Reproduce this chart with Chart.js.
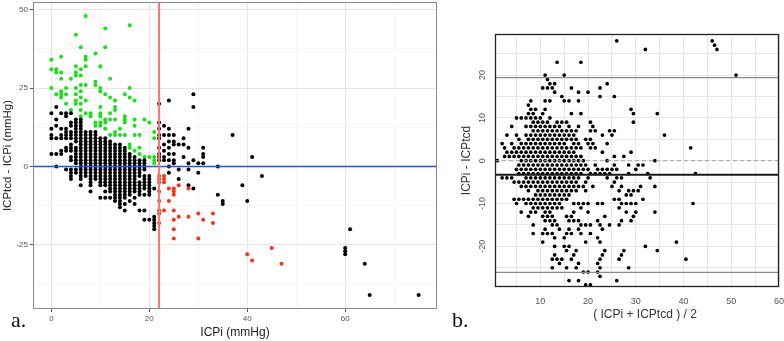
<!DOCTYPE html>
<html lang="en">
<head>
  <meta charset="UTF-8">
  <title>ICPi vs ICPtcd</title>
  <script src="https://cdn.jsdelivr.net/npm/chart.js"></script>
  <style>
    html, body { margin: 0; padding: 0; background: #fff; }
    body {
      width: 784px;
      height: 341px;
      position: relative;
      overflow: hidden;
      font-family: "Liberation Sans", Arial, sans-serif;
    }
    #wrapA { position: absolute; left: 0; top: 0; width: 445px; height: 341px; }
    #wrapB { position: absolute; left: 445px; top: 0; width: 339px; height: 341px; }
    .tag {
      position: absolute;
      font-family: "Liberation Serif", "DejaVu Serif", serif;
      font-size: 22px;
      line-height: 22px;
      color: #111;
    }
  </style>
</head>
<body>
  <div id="wrapA"><canvas id="chartA" width="445" height="341"></canvas></div>
  <div id="wrapB"><canvas id="chartB" width="339" height="341"></canvas></div>
  <div class="tag" style="left:11px; top:309px;">a.</div>
  <div class="tag" style="left:452px; top:309px;">b.</div>

  <script>
    // ICPi value, then the list of (ICPtcd - ICPi) differences seen at that ICPi
    // green: ICPi < 22 but ICPtcd >= 22
    const greenCols = [
      [0, [34, 31, 25]],
      [1, [31, 30, 23]],
      [2, [35, 30, 28, 24, 23, 22]],
      [3, [25, 23, 20]],
      [4, [28, 18]],
      [5, [42, 32, 30, 29, 25, 23, 21, 20]],
      [6, [38, 31, 29, 26, 24, 22, 20, 18, 16]],
      [7, [48, 35, 34, 32, 26, 21, 17]],
      [8, [17, 16]],
      [9, [36, 27, 26, 14, 13]],
      [10, [32, 25, 24, 19, 17, 16, 14, 13]],
      [11, [44, 38, 23, 15, 14, 12]],
      [12, [28, 22, 17, 15, 10]],
      [13, [21, 19, 18, 15, 11, 10]],
      [14, [12, 10]],
      [15, [23, 16, 15, 14, 10]],
      [16, [45, 25, 22, 7, 6]],
      [17, [21, 15, 13, 10, 5]],
      [18, [10, 6, 4]],
      [19, [15, 3]],
      [20, [14, 3]],
      [21, [11, 9, 3, 2, 1]]
    ];

    // black: both on the same side of 22
    const blackCols = [
      [0, [17, 12, 10, 9, 4]],
      [1, [19, 15, 13, 9, 4, 0]],
      [2, [17, 12, 10, 9, 5, 4]],
      [3, [17, 16, 12, 11, 10, 9, 6, 5, -1]],
      [4, [17, 14, 13, 11, 10, 9, 7, 6, 5, 3, 2, -1, -2, -3, -4]],
      [5, [15, 14, 13, 12, 11, 10, 9, 8, 6, 5, 4, 3, 2, 1, -1, -2]],
      [6, [15, 14, 13, 12, 11, 10, 9, 8, 7, 6, 5, 4, 3, 2, 1, 0, -1, -2, -3, -4, -6]],
      [7, [11, 10, 9, 8, 7, 6, 5, 4, 3, 2, 1, 0, -1, -2, -3]],
      [8, [11, 10, 9, 8, 7, 6, 5, 4, 3, 2, 1, 0, -1, -2, -3, -4, -5, -6, -8]],
      [9, [11, 10, 9, 8, 7, 6, 5, 4, 3, 2, 1, 0, -1, -2, -3, -4]],
      [10, [9, 8, 7, 6, 5, 4, 3, 2, 1, 0, -1, -2, -3, -4, -5, -6, -10]],
      [11, [9, 8, 7, 6, 5, 4, 3, 2, 1, 0, -1, -2, -3, -4, -5, -6, -8, -10]],
      [12, [8, 7, 6, 5, 4, 3, 2, 1, 0, -1, -2, -3, -4, -5, -6, -7, -8, -10]],
      [13, [7, 6, 5, 4, 3, 2, 1, 0, -1, -2, -3, -4, -5, -6, -7, -8, -9, -10, -11]],
      [14, [7, 6, 5, 4, 3, 2, 1, 0, -1, -2, -3, -4, -5, -6, -7, -8, -9, -10, -11, -12, -13]],
      [15, [6, 5, 4, 3, 2, 1, 0, -1, -2, -3, -4, -5, -6, -7, -8, -9, -10, -12, -14]],
      [16, [4, 3, 2, 1, 0, -1, -2, -3, -4, -5, -6, -7, -8, -9, -11]],
      [17, [3, 2, 1, 0, -1, -2, -3, -4, -5, -6, -7, -8, -10, -12]],
      [18, [2, 1, 0, -1, -2, -3, -5, -6, -7, -8, -9, -14]],
      [19, [2, 1, 0, -1, -3, -4, -5, -6, -7, -9, -14, -17]],
      [20, [-3, -4, -5, -6, -7, -8, -9, -17]],
      [21, [-7, -16, -17, -18, -19, -20]],
      [22, [20, 14, 12, 10, 9, 6, 4, 3, 2]],
      [23, [13, 10, 7, 5, 3, 2]],
      [24, [21, 12, 10, 8, 6, 4, 2, 0, -2]],
      [25, [10, 8, 7, 4, 2, 1]],
      [26, [7, -1, -4]],
      [27, [9, 7, 3]],
      [28, [12, 6, 1, -1, -6]],
      [29, [23, 19, 2, -7]],
      [30, [1, -2]],
      [31, [6, 4, 3, 1]],
      [34, [0, -9]],
      [35, [-11, -12]],
      [37, [10]],
      [39, [-6]],
      [40, [-11]],
      [41, [3]],
      [43, [-3]],
      [60, [-26, -27, -28]],
      [61, [-20]],
      [64, [-31]],
      [65, [-41]],
      [75, [-41]]
    ];

    // red: ICPi >= 22 but ICPtcd < 22
    const redCols = [
      [22, [-3, -4, -5, -8, -11, -14, -15, -18]],
      [23, [-3, -4, -5, -14]],
      [24, [-7, -11]],
      [25, [-7, -8, -9, -14, -17, -20, -23]],
      [26, [-6, -16]],
      [28, [-7, -16]],
      [30, [-15, -23]],
      [31, [-17]],
      [33, [-15, -18]],
      [40, [-28]],
      [41, [-30]],
      [45, [-26]],
      [47, [-31]]
    ];

    const threshold = 22;
    const xTicksA = [0, 20, 40, 60];
    const yTicksA = [-25, 0, 25, 50];

    // Bland-Altman lines (panel b)
    const meanDiff = -3.3;
    const upperLoA = 19.4;
    const lowerLoA = -26.1;
    const xTicksB = [10, 20, 30, 40, 50, 60];
    const yTicksB = [-20, -10, 0, 10, 20];

    const xMinA = -3.75, xMaxA = 78.75, yMinA = -45.45, yMaxA = 52.45;
    const xMinB = 0.5, xMaxB = 60, yMinB = -29.5, yMaxB = 29.6;

    function toPoints(cols) {
      const pts = [];
      cols.forEach(([icpi, diffs]) => diffs.forEach(d => pts.push({ x: icpi, y: d })));
      return pts;
    }

    // mean of the two readings vs ICPi - ICPtcd
    function toBlandAltman(cols) {
      const pts = [];
      cols.forEach(([icpi, diffs]) => diffs.forEach(d => {
        const p = { x: icpi + d / 2, y: -d };
        if (p.x >= xMinB && p.x <= xMaxB && p.y >= yMinB && p.y <= yMaxB) pts.push(p);
      }));
      return pts;
    }

    const frame = {
      id: 'frame',
      afterDatasetsDraw(chart, args, opts) {
        const { ctx, chartArea: { left, top, right, bottom } } = chart;
        ctx.save();
        ctx.strokeStyle = opts.color;
        ctx.lineWidth = opts.width;
        ctx.strokeRect(left + 0.5, top + 0.5, right - left - 1, bottom - top - 1);
        ctx.restore();
      }
    };

    const dot = (color, r) => ({
      backgroundColor: color,
      borderColor: color,
      borderWidth: 0,
      pointRadius: r,
      pointHoverRadius: r
    });

    // keep the plot box where the axes say, not where the labels push it
    const noPad = s => { s.paddingTop = 0; s.paddingBottom = 0; s.paddingLeft = 0; s.paddingRight = 0; };

    Chart.defaults.font.family = '"Liberation Sans", Arial, sans-serif';

    // ---- panel a ----
    new Chart(document.getElementById('chartA'), {
      type: 'scatter',
      data: {
        datasets: [
          { type: 'line', data: [{ x: threshold, y: yMinA }, { x: threshold, y: yMaxA }],
            borderColor: '#f8766d', borderWidth: 2, pointRadius: 0 },
          { type: 'line', data: [{ x: xMinA, y: 0 }, { x: xMaxA, y: 0 }],
            borderColor: '#2050ff', borderWidth: 1.5, pointRadius: 0 },
          { label: 'red', data: toPoints(redCols), ...dot('#ff2f0f', 2) },
          { label: 'black', data: toPoints(blackCols), ...dot('#000000', 2) },
          { label: 'green', data: toPoints(greenCols), ...dot('#14e414', 2) }
        ]
      },
      options: {
        responsive: false,
        animation: false,
        devicePixelRatio: 1,
        layout: { padding: { left: 0, right: 8, top: 1, bottom: 0 } },
        plugins: {
          legend: { display: false },
          tooltip: { enabled: false },
          frame: { color: '#8c8c8c', width: 1 }
        },
        scales: {
          x: {
            type: 'linear',
            min: xMinA,
            max: xMaxA,
            afterFit: s => { s.height = 32; noPad(s); },
            border: { display: false },
            grid: {
              color: c => xTicksA.includes(c.tick.value) ? '#e6e6e6' : '#f2f2f2',
              lineWidth: c => xTicksA.includes(c.tick.value) ? 1 : 0.7,
              tickLength: 3,
              tickColor: c => xTicksA.includes(c.tick.value) ? '#555' : 'rgba(0,0,0,0)'
            },
            ticks: {
              stepSize: 10,
              includeBounds: false,
              autoSkip: false,
              maxRotation: 0,
              padding: 2,
              color: '#555',
              font: { size: 8 },
              callback: v => xTicksA.includes(v) ? String(v) : ''
            },
            title: { display: true, text: 'ICPi (mmHg)', color: '#222', font: { size: 12 }, padding: { top: 0, bottom: 1 } }
          },
          y: {
            min: yMinA,
            max: yMaxA,
            afterFit: s => { s.width = 33; noPad(s); },
            border: { display: false },
            grid: {
              color: c => yTicksA.includes(c.tick.value) ? '#e6e6e6' : '#f2f2f2',
              lineWidth: c => yTicksA.includes(c.tick.value) ? 1 : 0.7,
              tickLength: 3,
              tickColor: c => yTicksA.includes(c.tick.value) ? '#555' : 'rgba(0,0,0,0)'
            },
            ticks: {
              stepSize: 12.5,
              includeBounds: false,
              autoSkip: false,
              padding: 2,
              color: '#555',
              font: { size: 8 },
              callback: v => yTicksA.includes(v) ? String(v) : ''
            },
            title: { display: true, text: 'ICPtcd - ICPi (mmHg)', color: '#222', font: { size: 11.5 }, padding: { top: 1, bottom: 0 } }
          }
        }
      },
      plugins: [frame]
    });

    // ---- panel b ----
    // base R style: y tick labels turned 90 degrees, x title a bit right of centre
    const baseRText = {
      id: 'baseRText',
      afterDraw(chart) {
        const { ctx, scales: { y } } = chart;
        ctx.save();
        ctx.font = '9px "Liberation Sans", Arial, sans-serif';
        ctx.fillStyle = '#555';
        ctx.textAlign = 'center';
        ctx.textBaseline = 'middle';
        yTicksB.forEach(v => {
          ctx.save();
          ctx.translate(38, y.getPixelForValue(v));
          ctx.rotate(-Math.PI / 2);
          ctx.fillText(String(v), 0, 0);
          ctx.restore();
        });
        ctx.font = '12px "Liberation Sans", Arial, sans-serif';
        ctx.fillStyle = '#333';
        ctx.fillText('( ICPi + ICPtcd ) / 2', 200, 315);
        ctx.restore();
      }
    };

    const allCols = greenCols.concat(blackCols, redCols);

    new Chart(document.getElementById('chartB'), {
      type: 'scatter',
      data: {
        datasets: [
          { type: 'line', data: [{ x: xMinB, y: meanDiff }, { x: xMaxB, y: meanDiff }],
            borderColor: '#1a1a1a', borderWidth: 2, pointRadius: 0 },
          { type: 'line', data: [{ x: xMinB, y: upperLoA }, { x: xMaxB, y: upperLoA }],
            borderColor: '#8a8a8a', borderWidth: 1.2, pointRadius: 0 },
          { type: 'line', data: [{ x: xMinB, y: lowerLoA }, { x: xMaxB, y: lowerLoA }],
            borderColor: '#8a8a8a', borderWidth: 1.2, pointRadius: 0 },
          { type: 'line', data: [{ x: xMinB, y: 0 }, { x: xMaxB, y: 0 }],
            borderColor: '#a0a0a0', borderWidth: 1, borderDash: [4, 3], pointRadius: 0 },
          { label: 'diff', data: toBlandAltman(allCols), ...dot('#000000', 1.85) }
        ]
      },
      options: {
        responsive: false,
        animation: false,
        devicePixelRatio: 1,
        layout: { padding: { left: 0, right: 5, top: 34, bottom: 0 } },
        plugins: {
          legend: { display: false },
          tooltip: { enabled: false },
          frame: { color: '#222', width: 1.3 }
        },
        scales: {
          x: {
            type: 'linear',
            min: xMinB,
            max: xMaxB,
            afterFit: s => { s.height = 54; noPad(s); },
            border: { display: false },
            grid: { color: '#e8e8e8', lineWidth: 1, drawTicks: false },
            ticks: {
              stepSize: 5,
              includeBounds: false,
              autoSkip: false,
              maxRotation: 0,
              padding: 9,
              color: '#555',
              font: { size: 9 },
              callback: v => xTicksB.includes(v) ? String(v) : ''
            }
          },
          y: {
            min: yMinB,
            max: yMaxB,
            afterFit: s => { s.width = 50; noPad(s); },
            border: { display: false },
            grid: { color: '#e8e8e8', lineWidth: 1, drawTicks: false },
            ticks: { stepSize: 5, includeBounds: false, autoSkip: false, display: false },
            title: { display: true, text: 'ICPi - ICPtcd', color: '#333', font: { size: 12 }, padding: { top: 14, bottom: 0 } }
          }
        }
      },
      plugins: [frame, baseRText]
    });
  </script>
</body>
</html>
